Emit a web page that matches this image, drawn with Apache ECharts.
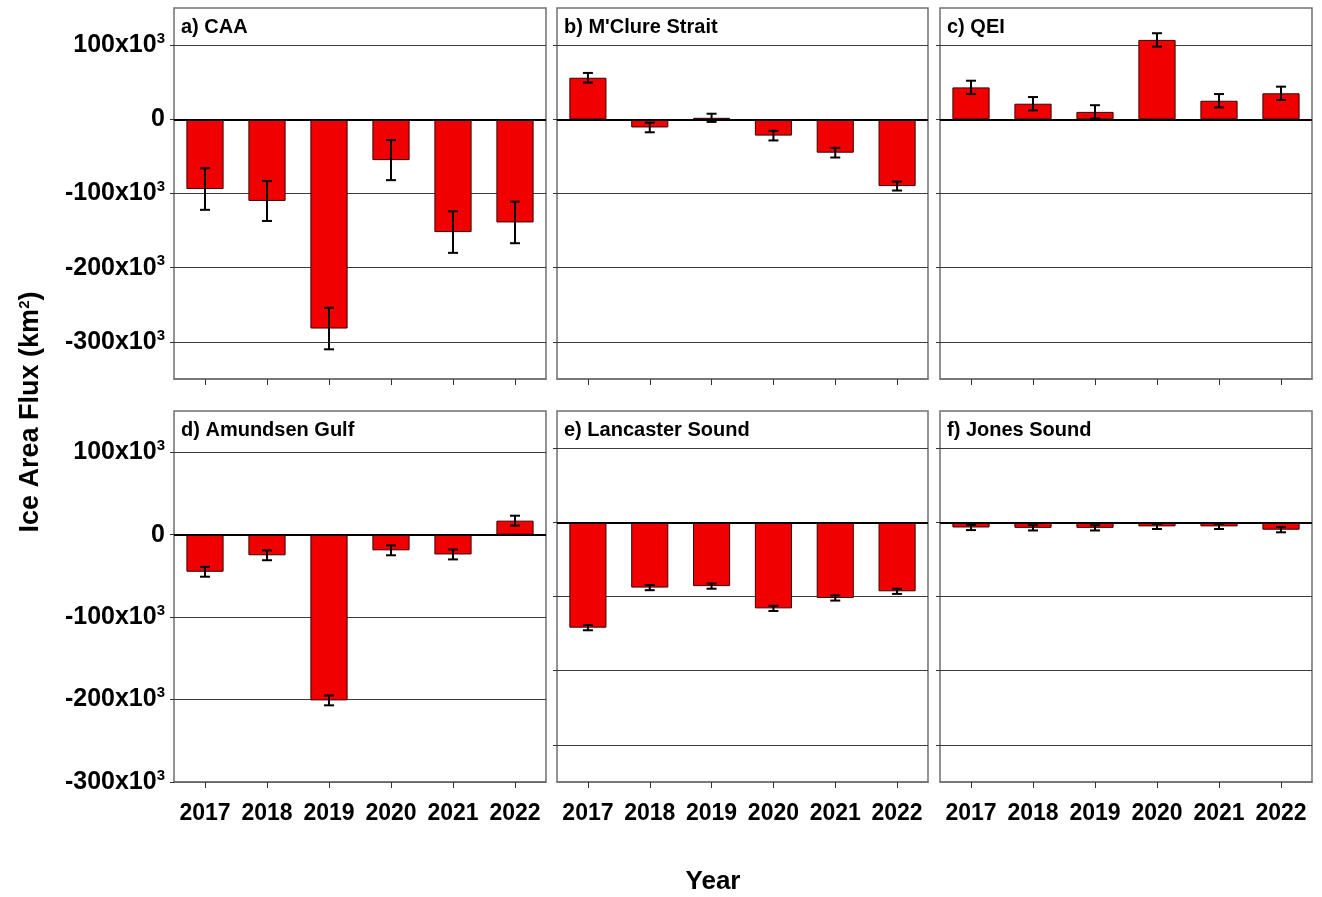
<!DOCTYPE html>
<html>
<head>
<meta charset="utf-8">
<title>Ice Area Flux</title>
<script src="https://cdn.jsdelivr.net/npm/echarts@6.0.0/dist/echarts.min.js"></script>
<style>
  html, body { margin: 0; padding: 0; background: #fff; }
  #chart { width: 1322px; height: 897px; }
</style>
</head>
<body>
<div id="chart"></div>
<script>
// categories
var years = ['2017', '2018', '2019', '2020', '2021', '2022'];

// ice area flux (km2) and error
var caa = [-94000, -110000, -282000, -55000, -152000, -139000];
var caaErr = [28000, 27000, 28000, 27000, 28000, 28000];
var mclure = [56000, -11000, 2000, -22000, -45000, -90000];
var mclureErr = [6500, 6500, 5500, 6500, 6500, 6000];
var qei = [43000, 21000, 10000, 107000, 25000, 35000];
var qeiErr = [9000, 9000, 9000, 9000, 9000, 9000];
var amundsen = [-45000, -25000, -201000, -19000, -24000, 17000];
var amundsenErr = [6000, 6000, 6000, 6000, 6000, 6000];
var lancaster = [-142000, -88000, -86000, -116000, -102000, -93000];
var lancasterErr = [3500, 3500, 3500, 3500, 3500, 3500];
var jones = [-7000, -7500, -7500, -5500, -5500, -10000];
var jonesErr = [3500, 3500, 3500, 3500, 3500, 3500];

// y tick values
var yTicks = [-300000, -200000, -100000, 0, 100000];

var FONT = '"Liberation Sans", Arial, sans-serif';

var panels = [
  { title: 'a) CAA', vals: caa, errs: caaErr, left: 174, top: 8, width: 372, min: -350000, ylab: true, xlab: false },
  { title: "b) M'Clure Strait", vals: mclure, errs: mclureErr, left: 557, top: 8, width: 371, min: -350000, ylab: false, xlab: false },
  { title: 'c) QEI', vals: qei, errs: qeiErr, left: 940, top: 8, width: 372, min: -350000, ylab: false, xlab: false },
  { title: 'd) Amundsen Gulf', vals: amundsen, errs: amundsenErr, left: 174, top: 411, width: 372, min: -300000, ylab: true, xlab: true },
  { title: 'e) Lancaster Sound', vals: lancaster, errs: lancasterErr, left: 557, top: 411, width: 371, min: -350000, ylab: false, xlab: true },
  { title: 'f) Jones Sound', vals: jones, errs: jonesErr, left: 940, top: 411, width: 372, min: -350000, ylab: false, xlab: true }
];

function yFormat(v) {
  if (v === 0) return '{b|0}';
  return '{b|' + (v / 1000) + 'x10}{s|3}';
}

function errRender(params, api) {
  var i = api.value(0);
  var v = api.value(1);
  var e = api.value(2);
  var hi = api.coord([i, v + e]);
  var lo = api.coord([i, v - e]);
  var cap = 5;
  var st = { stroke: '#000', lineWidth: 2 };
  return {
    type: 'group',
    children: [
      { type: 'line', shape: { x1: hi[0], y1: hi[1], x2: lo[0], y2: lo[1] }, style: st },
      { type: 'line', shape: { x1: hi[0] - cap, y1: hi[1], x2: hi[0] + cap, y2: hi[1] }, style: st },
      { type: 'line', shape: { x1: lo[0] - cap, y1: lo[1], x2: lo[0] + cap, y2: lo[1] }, style: st }
    ]
  };
}

var grids = [], xAxes = [], yAxes = [], series = [], graphics = [];

panels.forEach(function (p, k) {
  grids.push({
    left: p.left, top: p.top, width: p.width, height: 371,
    show: true, borderColor: '#707070', borderWidth: 1.5, backgroundColor: '#fff'
  });
  xAxes.push({
    type: 'category', gridIndex: k, data: years, position: 'bottom',
    axisLine: { show: true, onZero: false, lineStyle: { color: '#707070', width: 1.5 } },
    axisTick: { show: true, interval: 0, inside: false, length: 6, alignWithLabel: true, lineStyle: { color: '#333' } },
    axisLabel: { show: p.xlab, interval: 0, margin: 20, color: '#000', fontSize: 23, fontWeight: 'bold', fontFamily: FONT },
    splitLine: { show: false }
  });
  yAxes.push({
    type: 'value', gridIndex: k, min: p.min, max: 150000,
    axisLine: { show: false },
    axisTick: { show: true, inside: false, length: 4, customValues: yTicks, lineStyle: { color: '#333' } },
    axisLabel: {
      show: p.ylab, margin: 9, customValues: yTicks, formatter: yFormat,
      rich: {
        b: { fontSize: 25, fontWeight: 'bold', color: '#000', fontFamily: FONT },
        s: { fontSize: 15, fontWeight: 'bold', color: '#000', fontFamily: FONT, padding: [0, 0, 13, 0] }
      }
    },
    splitLine: { show: true, lineStyle: { color: '#3c3c3c', width: 1 } }
  });
  series.push({
    type: 'bar', xAxisIndex: k, yAxisIndex: k, data: p.vals,
    barWidth: '60%',
    itemStyle: { color: '#f00000', borderColor: '#3a0000', borderWidth: 1 },
    markLine: {
      silent: true, symbol: 'none', label: { show: false },
      lineStyle: { color: '#000', width: 2, type: 'solid' },
      data: [{ yAxis: 0 }]
    },
    z: 2
  });
  series.push({
    type: 'custom', xAxisIndex: k, yAxisIndex: k,
    data: p.vals.map(function (v, i) { return [i, v, p.errs[i]]; }),
    encode: { x: 0, y: 1 },
    renderItem: errRender,
    z: 4
  });
  graphics.push({
    type: 'text', x: p.left + 7, y: p.top + 19,
    style: { text: p.title, font: 'bold 20px ' + FONT, fill: '#000', verticalAlign: 'middle' },
    z: 10
  });
});

graphics.push({
  type: 'text', x: 31, y: 412, rotation: Math.PI / 2,
  style: {
    text: '{a|Ice Area Flux (km}{s|2}{a|)}',
    align: 'center', verticalAlign: 'middle',
    rich: {
      a: { fontSize: 27, fontWeight: 'bold', fontFamily: FONT, fill: '#000' },
      s: { fontSize: 15, fontWeight: 'bold', fontFamily: FONT, fill: '#000', padding: [0, 0, 12, 0] }
    }
  }
});
graphics.push({
  type: 'text', x: 713, y: 882,
  style: { text: 'Year', font: 'bold 26px ' + FONT, fill: '#000', align: 'center', verticalAlign: 'middle' }
});

var chart = echarts.init(document.getElementById('chart'), null, { renderer: 'canvas' });
chart.setOption({
  animation: false,
  backgroundColor: '#fff',
  grid: grids,
  xAxis: xAxes,
  yAxis: yAxes,
  series: series,
  graphic: graphics
});
</script>
</body>
</html>
